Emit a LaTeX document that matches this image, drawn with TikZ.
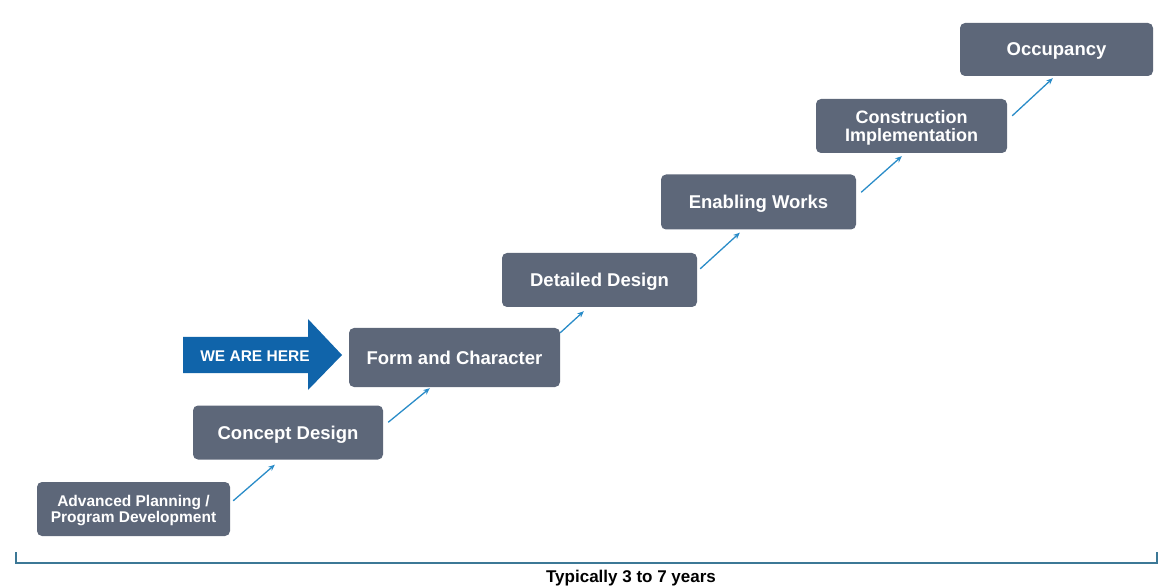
\documentclass[tikz,border=0pt]{standalone}
\usepackage{fontspec}
\setmainfont{Liberation Sans}
\usetikzlibrary{arrows.meta}
\definecolor{stagegrey}{HTML}{5D6779}
\definecolor{herablue}{HTML}{1064AA}
\definecolor{linkblue}{HTML}{2A8CC8}
\definecolor{spanteal}{HTML}{3C7896}
\begin{document}
\begin{tikzpicture}[x=1pt,y=1pt,
    stage/.style={rectangle,rounded corners=5pt,fill=stagegrey,text=white,
      font=\fontsize{18.5}{18}\selectfont\bfseries,align=center,text depth=0pt,
      minimum width=193pt,minimum height=54pt,inner sep=0pt},
    twoline/.style={font=\fontsize{15.5}{16.5}\selectfont\bfseries},
    link/.style={draw=linkblue,line width=1.3pt,-{Stealth[length=6.5pt,width=5.5pt]}},
    span/.style={draw=spanteal,line width=1.2pt}]
      \useasboundingbox (0,0) rectangle (1167,587);
      \draw
        (133.5,78) node[stage,twoline] (adv){Advanced Planning /\\Program Development}
        (288,154.5) node[stage,minimum width=190pt] (con){Concept Design}
        (454.5,229.5) node[stage,minimum width=211pt,minimum height=59pt] (form){Form and Character}
        (599.5,307) node[stage,minimum width=195pt] (det){Detailed Design}
        (758.5,385) node[stage,minimum width=195pt,minimum height=55pt] (enab){Enabling Works}
        (911.5,461) node[stage,minimum width=191pt,font=\fontsize{18}{18}\selectfont\bfseries] (constr){Construction\\Implementation}
        (1056.5,537.5) node[stage,minimum height=53pt] (occ){Occupancy};
      \begin{scope}[link]
        \draw ([shift={(3,-19)}]adv.north east) to ([shift={(82,-5)}]con.south west);
        \draw ([shift={(5,-17)}]con.north east) to ([shift={(81,-1)}]form.south west);
        \draw ([shift={(0,-5)}]form.north east) to ([shift={(82,-4)}]det.south west);
        \draw ([shift={(3,-16)}]det.north east) to ([shift={(79,-3)}]enab.south west);
        \draw ([shift={(5,-18)}]enab.north east) to ([shift={(86,-3)}]constr.south west);
        \draw ([shift={(5,-17)}]constr.north east) to ([shift={(93,-2)}]occ.south west);
      \end{scope}
      % we are here
      \fill[herablue] (183,214) -- (308,214) -- (308,197) -- (342,232)
        -- (308,268) -- (308,250) -- (183,250) -- cycle;
      \node[text=white,font=\fontsize{15.5}{16}\selectfont\bfseries] (here) at (255,231) {WE ARE HERE};
      % time span
      \coordinate (spanl) at (16,35);
      \coordinate (spanr) at (1157,35);
      \draw[span] (spanl) -- (spanl |- 0,24) -- (spanr |- 0,24) -- (spanr);
      \node[anchor=base,font=\fontsize{17}{17}\selectfont\bfseries] (years) at (631,5) {Typically 3 to 7 years};
    \end{tikzpicture}
\end{document}
